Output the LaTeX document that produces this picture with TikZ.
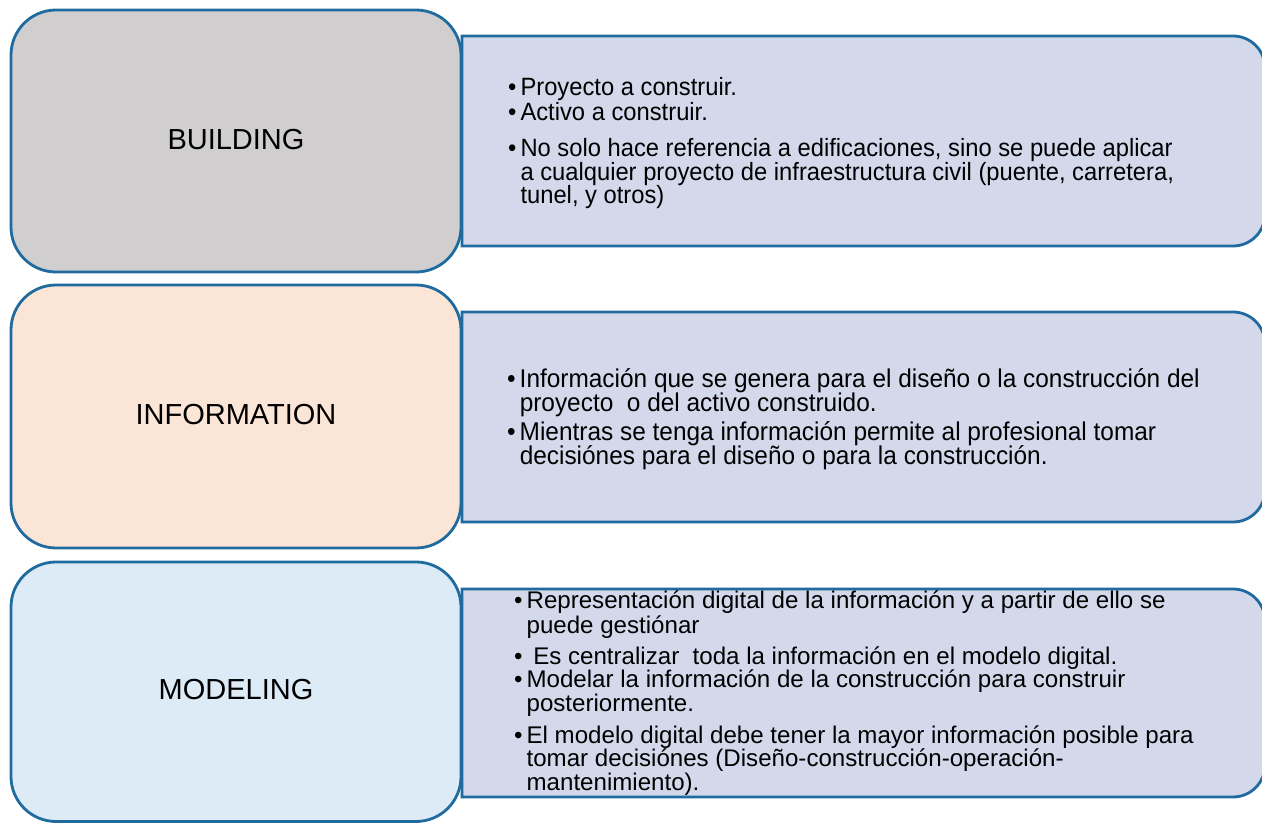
\documentclass[tikz,border=0pt]{standalone}
\usepackage{fontspec}
\setmainfont{Liberation Sans}
\newfontfamily\condsans[FakeStretch=0.95]{Liberation Sans}
\usepackage{tikz}
\usetikzlibrary{positioning}

\definecolor{rim}{RGB}{31,106,158}
\definecolor{buildfill}{RGB}{208,206,206}
\definecolor{infofill}{RGB}{251,229,214}
\definecolor{modelfill}{RGB}{221,235,247}
\definecolor{notefill}{RGB}{211,217,235}

% a text line that does not push the row apart, so the pitch is the baselineskip
\newcommand{\lin}[1]{\smash{#1}}

\tikzset{
  tag/.style={draw=rim, line width=2.8pt, rounded corners=45pt},
  note/.style={draw=rim, fill=notefill, line width=2.8pt},
  tagtext/.style={font=\fontsize{29}{34}\selectfont, text=black},
  notetext/.style={anchor=base west, inner sep=0pt, align=left, text=black},
}

\begin{document}
\begin{tikzpicture}[x=1pt, y=1pt]
\useasboundingbox (0, 0) rectangle (1262, 823);
\clip (0, 0) rectangle (1262, 823);

% left tags
\draw[tag, fill=buildfill] (11, 813) rectangle (461, 551);
\draw[tag, fill=infofill] (11, 538) rectangle (461, 275);
\draw[tag, fill=modelfill] (11, 261) rectangle (461, 1.5);

% right notes, rounded on the right side only
\draw[note] (462, 787) -- (1233, 787) arc[start angle=90, end angle=0, radius=32]
  -- (1265, 609) arc[start angle=0, end angle=-90, radius=32] -- (462, 577) -- cycle;
\draw[note] (462, 511) -- (1233, 511) arc[start angle=90, end angle=0, radius=32]
  -- (1265, 333) arc[start angle=0, end angle=-90, radius=32] -- (462, 301) -- cycle;
\draw[note] (462, 234) -- (1233, 234) arc[start angle=90, end angle=0, radius=32]
  -- (1265, 58) arc[start angle=0, end angle=-90, radius=32] -- (462, 26) -- cycle;

% tag labels
\node[tagtext] (building) at (236, 683) {BUILDING};
\node[tagtext] (information) at (236, 408) {INFORMATION};
\node[tagtext] (modeling) at (236, 133) {MODELING};

% note texts
\node[notetext, font=\condsans\fontsize{25}{23.5}\selectfont] (buildnote) at (508, 727) {%
\begin{tabular}[t]{@{}l@{\hspace{4pt}}l@{}}
\lin{•} & \lin{Proyecto a construir.}\\[1.5pt]
\lin{•} & \lin{Activo a construir.}\\[12.5pt]
\lin{•} & \lin{No solo hace referencia a edificaciones, sino se puede aplicar}\\
  & \lin{a cualquier proyecto de infraestructura civil (puente, carretera,}\\
  & \lin{tunel, y otros)}
\end{tabular}};

\node[notetext, font=\condsans\fontsize{25.7}{24}\selectfont] (infonote) at (507, 435) {%
\begin{tabular}[t]{@{}l@{\hspace{4pt}}l@{}}
\lin{•} & \lin{Información que se genera para el diseño o la construcción del}\\
  & \lin{proyecto\ \ o del activo construido.}\\[5pt]
\lin{•} & \lin{Mientras se tenga información permite al profesional tomar}\\
  & \lin{decisiónes para el diseño o para la construcción.}
\end{tabular}};

\node[notetext, font=\fontsize{24.1}{24}\selectfont] (modelnote) at (514, 214) {%
\begin{tabular}[t]{@{}l@{\hspace{4pt}}l@{}}
\lin{•} & \lin{Representación digital de la información y a partir de ello se}\\
  & \lin{puede gestiónar}\\[7pt]
\lin{•} & \lin{\ Es centralizar\ \ toda la información en el modelo digital.}\\
\lin{•} & \lin{Modelar la información de la construcción para construir}\\
  & \lin{posteriormente.}\\[7pt]
\lin{•} & \lin{El modelo digital debe tener la mayor información posible para}\\
  & \lin{tomar decisiónes (Diseño-construcción-operación-}\\
  & \lin{mantenimiento).}
\end{tabular}};
\end{tikzpicture}
\end{document}
